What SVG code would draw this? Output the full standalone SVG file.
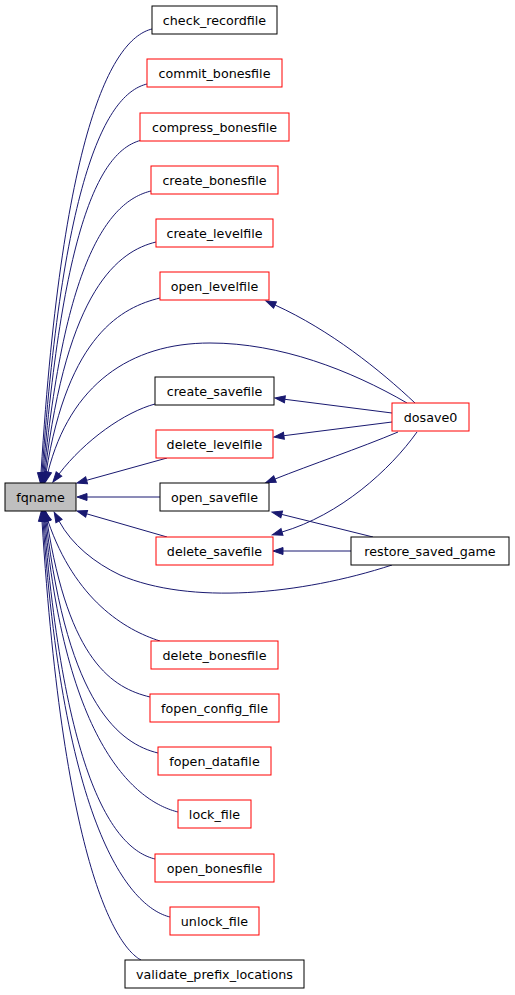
<svg xmlns="http://www.w3.org/2000/svg" width="515" height="995" viewBox="0 0 515 995">
<style>
.n rect{fill:#fff;stroke:#000;stroke-width:1}
.n.r rect{stroke:#ff0000}
.n.f rect{fill:#bfbfbf}
.n text{font-family:"DejaVu Sans",sans-serif;font-size:12.7px;text-anchor:middle;fill:#000}
.e path{fill:none;stroke:#191970;stroke-width:1;marker-end:url(#ah)}
</style>
<defs>
<marker id="ah" markerUnits="userSpaceOnUse" markerWidth="11" markerHeight="9" viewBox="0 0 11 9" refX="0" refY="4.5" orient="auto" overflow="visible">
<path d="M0,1 L10,4.5 L0,8 z" fill="#191970" stroke="#191970" stroke-width="1"/>
</marker>
</defs>
<rect width="515" height="995" fill="#fff"/>
<g id="edges" class="e">
<path d="M152,29 C115,38 63,118 41,473"/>
<path d="M147,84 C110,93 64,162 42,473"/>
<path d="M142,140 C105,149 65,207 43,473"/>
<path d="M151,191 C114,200 66,247 44,473"/>
<path d="M156,242 C119,251 67,288 45,473"/>
<path d="M160,298 C123,307 68,334 46,473"/>
<path d="M407,403 C350,370 280,343 210,343 C130,343 70,385 48,472"/>
<path d="M155,404 C125,412 85,440 59,474"/>
<path d="M167,458 L86.6,480.3"/>
<path d="M160,497 L87,497"/>
<path d="M167,537 L86.6,513.8"/>
<path d="M392,565 C300,595 190,605 120,575 C95,563 72,545 59,521"/>
<path d="M160,641 C125,630 75,600 48,521"/>
<path d="M150,697 C113,688 69,662 47,521"/>
<path d="M158,753 C121,744 68,707 46,521"/>
<path d="M178,812 C141,803 67,754 45,521"/>
<path d="M155,859 C118,850 66,791 44,521"/>
<path d="M170,917 C133,908 65,838 43,521"/>
<path d="M141,960 C118,948 64,872 42,521"/>
<path d="M415,403 C380,370 330,330 275,305"/>
<path d="M392,413 L284.9,399.3"/>
<path d="M392,422 L283.9,435.7"/>
<path d="M398,432 C360,448 310,465 275,479"/>
<path d="M417,432 C390,470 340,515 282,532"/>
<path d="M373,537 L281.7,514.4"/>
<path d="M351,551 L283,551"/>
</g>
<g id="fqname" class="n f"><rect x="5" y="483" width="71" height="28"/><text x="40.5" y="501.5">fqname</text></g>
<g id="check_recordfile" class="n"><rect x="152" y="6" width="125" height="28"/><text x="214.5" y="24.5">check_recordfile</text></g>
<g id="commit_bonesfile" class="n r"><rect x="147" y="59" width="135" height="28"/><text x="214.5" y="77.5">commit_bonesfile</text></g>
<g id="compress_bonesfile" class="n r"><rect x="140" y="113" width="149" height="28"/><text x="214.5" y="131.5">compress_bonesfile</text></g>
<g id="create_bonesfile" class="n r"><rect x="151" y="166" width="127" height="28"/><text x="214.5" y="184.5">create_bonesfile</text></g>
<g id="create_levelfile" class="n r"><rect x="156" y="219" width="117" height="28"/><text x="214.5" y="237.5">create_levelfile</text></g>
<g id="open_levelfile" class="n r"><rect x="160" y="272" width="109" height="28"/><text x="214.5" y="290.5">open_levelfile</text></g>
<g id="create_savefile" class="n"><rect x="155" y="377" width="119" height="28"/><text x="214.5" y="395.5">create_savefile</text></g>
<g id="delete_levelfile" class="n r"><rect x="156" y="430" width="117" height="28"/><text x="214.5" y="448.5">delete_levelfile</text></g>
<g id="open_savefile" class="n"><rect x="160" y="483" width="109" height="28"/><text x="214.5" y="501.5">open_savefile</text></g>
<g id="delete_savefile" class="n r"><rect x="156" y="537" width="117" height="28"/><text x="214.5" y="555.5">delete_savefile</text></g>
<g id="dosave0" class="n r"><rect x="392" y="403" width="77" height="28"/><text x="430.5" y="421.5">dosave0</text></g>
<g id="restore_saved_game" class="n"><rect x="351" y="537" width="158" height="28"/><text x="430" y="555.5">restore_saved_game</text></g>
<g id="delete_bonesfile" class="n r"><rect x="151" y="641" width="127" height="28"/><text x="214.5" y="659.5">delete_bonesfile</text></g>
<g id="fopen_config_file" class="n r"><rect x="150" y="694" width="129" height="28"/><text x="214.5" y="712.5">fopen_config_file</text></g>
<g id="fopen_datafile" class="n r"><rect x="158" y="747" width="113" height="28"/><text x="214.5" y="765.5">fopen_datafile</text></g>
<g id="lock_file" class="n r"><rect x="178" y="800" width="73" height="28"/><text x="214.5" y="818.5">lock_file</text></g>
<g id="open_bonesfile" class="n r"><rect x="155" y="854" width="119" height="28"/><text x="214.5" y="872.5">open_bonesfile</text></g>
<g id="unlock_file" class="n r"><rect x="170" y="907" width="89" height="28"/><text x="214.5" y="925.5">unlock_file</text></g>
<g id="validate_prefix_locations" class="n"><rect x="125" y="960" width="179" height="28"/><text x="214.5" y="978.5">validate_prefix_locations</text></g>
</svg>
